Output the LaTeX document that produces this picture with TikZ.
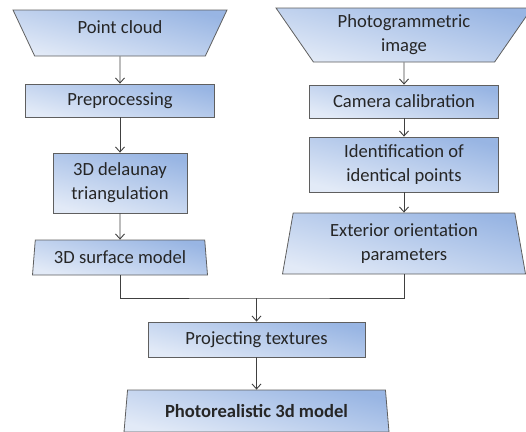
\documentclass[tikz,border=0pt]{standalone}
\usepackage{fontspec}
\setmainfont{Carlito}
\usetikzlibrary{shapes.geometric,arrows.meta}
\definecolor{boxdark}{RGB}{152,181,227}
\definecolor{boxlight}{RGB}{226,234,247}
\definecolor{boxline}{RGB}{95,95,95}
\definecolor{wire}{RGB}{64,64,64}
\definecolor{txt}{RGB}{38,38,38}

\begin{document}
\begin{tikzpicture}[x=1pt,y=-1pt,
    box/.style={draw=boxline, line width=0.8pt, top color=boxdark,
      bottom color=boxlight, shading angle=-14, text=txt,
      font=\fontsize{18.6}{24}\selectfont, align=center, inner sep=0pt},
    rbox/.style={box, rectangle},
    trap/.style={box, trapezium, trapezium stretches body,
      trapezium angle=#1},
    wireline/.style={draw=wire, line width=0.9pt},
    arr/.style={wireline, -{Straight Barb[length=5pt,width=9pt]}}]
  \useasboundingbox (0,0) rectangle (526,431);

  \node[trap=131, minimum width=214, minimum height=46, text depth=12] (pc) at (120,33) {Point cloud};
  \node[rbox, minimum width=189, minimum height=33] (pre) at (120,100.5) {Preprocessing};
  \node[rbox, minimum width=134, minimum height=60] (del) at (120,183) {3D delaunay\\triangulation};
  \node[trap=78, minimum width=175, minimum height=35] (surf) at (120,257.5) {3D surface model};

  \node[trap=133, minimum width=256, minimum height=54] (pg) at (404,35) {Photogrammetric\\image};
  \node[rbox, minimum width=189, minimum height=33] (cam) at (404,101.5) {Camera calibration};
  \node[rbox, minimum width=189, minimum height=55] (ident) at (404,164.5) {Identification of\\identical points};
  \node[trap=75, minimum width=243, minimum height=61] (ext) at (404,243.5) {Exterior orientation\\parameters};

  \node[rbox, minimum width=217, minimum height=35] (proj) at (256.5,339.5) {Projecting textures};
  \node[trap=75, minimum width=265, minimum height=42,
    font=\fontsize{18.6}{24}\selectfont\bfseries] (photo) at (256.5,411) {Photorealistic 3d model};

  \coordinate (join) at (256.5,298);

  \draw[arr] (pc) -- (pre);
  \draw[arr] (pre) -- (del);
  \draw[arr] (del) -- (surf);
  \draw[arr] (pg) -- (cam);
  \draw[arr] (cam) -- (ident);
  \draw[arr] (ident) -- (ext);
  \draw[wireline] (surf.south) |- (join) -| (ext.south);
  \draw[arr] (join) -- (proj);
  \draw[arr] (proj) -- (photo);
\end{tikzpicture}
\end{document}
